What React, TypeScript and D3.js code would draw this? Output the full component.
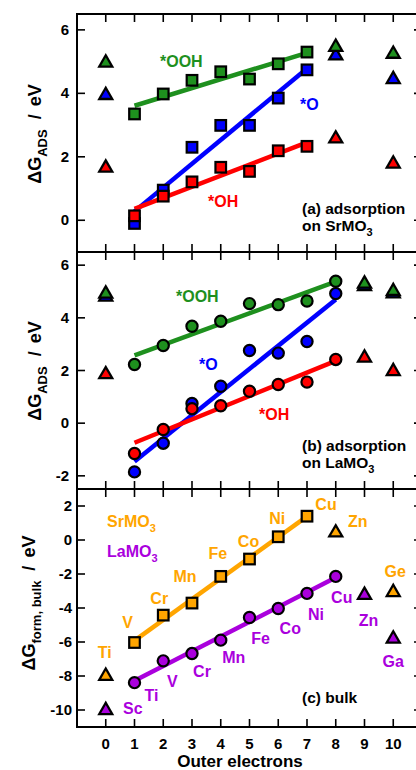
import { useEffect, useRef } from 'react';
import { select, scaleLinear, symbol, symbolTriangle, mean, sum } from 'd3';

// panel (a): adsorption on SrMO3, squares at 1..7 outer electrons
const srX = [1, 2, 3, 4, 5, 6, 7];
const srOOH = [3.35, 3.98, 4.41, 4.68, 4.45, 4.93, 5.3];
const srO = [-0.1, 0.95, 2.3, 2.99, 2.99, 3.85, 4.74];
const srOH = [0.14, 0.76, 1.21, 1.67, 1.54, 2.19, 2.33];
const srTriX = [0, 8, 10];
const srTriOOH = [4.96, 5.46, 5.24];
const srTriO = [3.94, 5.19, 4.44];
const srTriOH = [1.65, 2.57, 1.78];

// panel (b): adsorption on LaMO3, circles at 1..8
const laX = [1, 2, 3, 4, 5, 6, 7, 8];
const laOOH = [2.23, 2.95, 3.68, 3.87, 4.54, 4.5, 4.64, 5.39];
const laO = [-1.85, -0.76, 0.75, 1.4, 2.76, 2.66, 3.1, 4.92];
const laOH = [-1.15, -0.24, 0.55, 0.66, 1.21, 1.47, 1.56, 2.42];
const laTriX = [0, 9, 10];
const laTriOOH = [4.91, 5.29, 5.01];
const laTriO = [4.8, 5.2, 4.92];
const laTriOH = [1.85, 2.48, 1.97];

// panel (c): bulk formation energies
const srBulk = [-6.03, -4.42, -3.71, -2.14, -1.12, 0.19, 1.4];
const srBulkTri = [-8.0, 0.43, -3.08];
const srBulkTriX = [0, 8, 10];
const laBulk = [-8.39, -7.11, -6.68, -5.89, -4.56, -4.03, -3.14, -2.14];
const laBulkTri = [-10.02, -3.24, -5.81];
const laBulkTriX = [0, 9, 10];

const srElements = ['Ti', 'V', 'Cr', 'Mn', 'Fe', 'Co', 'Ni', 'Cu', 'Zn', 'Ge'];
const srElementX = [0, 1, 2, 3, 4, 5, 6, 7, 8, 10];
const laElements = ['Sc', 'Ti', 'V', 'Cr', 'Mn', 'Fe', 'Co', 'Ni', 'Cu', 'Zn', 'Ga'];
const laElementX = [0, 1, 2, 3, 4, 5, 6, 7, 8, 9, 10];

const xTicks = [0, 1, 2, 3, 4, 5, 6, 7, 8, 9, 10];

// label placement, px offsets from the marker
const srLabelOffsets = [[-1, -18], [-7, -15], [-4, -11], [-7, -21], [-3, -17], [-1, -12], [-1, -13], [19, -6], [22, -6], [2, -15]];
const laLabelOffsets = [[27, 4], [17, 18], [9, 26], [10, 23], [13, 23], [11, 26], [12, 25], [9, 27], [6, 27], [4, 31], [0, 28]];

const GREEN = '#1e901e';
const BLUE = '#0000ff';
const RED = '#ff0000';
const ORANGE = '#ffa500';
const PURPLE = '#aa00dd';
const FONT = '"Liberation Sans", Arial, Helvetica, sans-serif';

function fit(xs: number[], ys: number[]) {
  const mx = mean(xs) ?? 0;
  const my = mean(ys) ?? 0;
  const sxy = sum(xs, (v, i) => (v - mx) * (ys[i] - my));
  const sxx = sum(xs, (v) => (v - mx) * (v - mx));
  const b = sxy / sxx;
  return (v: number) => my + b * (v - mx);
}

export default function App() {
  const svgRef = useRef<SVGSVGElement | null>(null);

  useEffect(() => {
    if (!svgRef.current) return;
    const svg = select(svgRef.current);
    svg.selectAll('*').remove();

    const x = scaleLinear().domain([-1, 11]).range([77, 422]);
    const ya = scaleLinear().domain([-1, 6.5]).range([252, 14]);
    const yb = scaleLinear().domain([-2.5, 6.5]).range([489, 252]);
    const yc = scaleLinear().domain([-11, 3]).range([727, 489]);

    const txt = (sel: any) =>
      sel.attr('font-family', FONT).attr('font-weight', 'bold');

    const frame = (y: any, ticks: number[], labelX: number) => {
      const [y0, y1] = y.range();
      const g = svg.append('g');
      const tick = (data: number[], cls: string) =>
        g.selectAll(`line.${cls}`).data(data).join('line').attr('class', cls)
          .attr('stroke', '#000').attr('stroke-width', 1.6);
      tick(xTicks, 'xt')
        .attr('x1', (d) => x(d)).attr('x2', (d) => x(d))
        .attr('y1', y1).attr('y2', y1 + 8);
      tick(xTicks, 'xb')
        .attr('x1', (d) => x(d)).attr('x2', (d) => x(d))
        .attr('y1', y0).attr('y2', y0 - 8);
      tick(ticks, 'yl')
        .attr('x1', 77).attr('x2', 85)
        .attr('y1', (d) => y(d)).attr('y2', (d) => y(d));
      tick(ticks, 'yr')
        .attr('x1', 414).attr('x2', 422)
        .attr('y1', (d) => y(d)).attr('y2', (d) => y(d));
      g.append('rect')
        .attr('x', 77)
        .attr('y', y1)
        .attr('width', 345)
        .attr('height', y0 - y1)
        .attr('fill', 'none')
        .attr('stroke', '#000')
        .attr('stroke-width', 2);
      g.selectAll('text.yl')
        .data(ticks)
        .join('text')
        .attr('x', labelX)
        .attr('y', (d) => y(d) + 5)
        .attr('text-anchor', 'end')
        .attr('font-size', 15)
        .call(txt)
        .text((d) => String(d));
    };

    const fitLine = (y: any, xs: number[], ys: number[], color: string) => {
      const f = fit(xs, ys);
      const x0 = xs[0];
      const x1 = xs[xs.length - 1];
      svg.append('line')
        .attr('x1', x(x0))
        .attr('y1', y(f(x0)))
        .attr('x2', x(x1))
        .attr('y2', y(f(x1)))
        .attr('stroke', color)
        .attr('stroke-width', 4.5);
    };

    const squares = (y: any, xs: number[], ys: number[], color: string) => {
      svg.append('g')
        .selectAll('rect')
        .data(ys)
        .join('rect')
        .attr('x', (d, i) => x(xs[i]) - 5.3)
        .attr('y', (d) => y(d) - 5.3)
        .attr('width', 10.6)
        .attr('height', 10.6)
        .attr('fill', color)
        .attr('stroke', '#000')
        .attr('stroke-width', 2.2);
    };

    const circles = (y: any, xs: number[], ys: number[], color: string) => {
      svg.append('g')
        .selectAll('circle')
        .data(ys)
        .join('circle')
        .attr('cx', (d, i) => x(xs[i]))
        .attr('cy', (d) => y(d))
        .attr('r', 5.6)
        .attr('fill', color)
        .attr('stroke', '#000')
        .attr('stroke-width', 2.2);
    };

    const outer = symbol(symbolTriangle, 125)();
    const inner = symbol(symbolTriangle, 36)();
    const triangles = (y: any, xs: number[], ys: number[], color: string) => {
      const g = svg.append('g');
      ys.forEach((d, i) => {
        const t = `translate(${x(xs[i])},${y(d)})`;
        g.append('path').attr('d', outer).attr('transform', t).attr('fill', '#000');
        g.append('path').attr('d', inner).attr('transform', t).attr('fill', color);
      });
    };

    const label = (px: number, py: number, color: string, s: string, sub?: string, anchor = 'start', size = 16) => {
      const t = svg.append('text')
        .attr('x', px)
        .attr('y', py)
        .attr('fill', color)
        .attr('font-size', size)
        .attr('text-anchor', anchor)
        .call(txt)
        .text(s);
      if (sub) t.append('tspan').attr('dy', 5).attr('font-size', 11).text(sub);
    };

    const yTitle = (px: number, py: number, sub: string) => {
      const t = svg.append('text')
        .attr('transform', `translate(${px},${py}) rotate(-90)`)
        .attr('text-anchor', 'middle')
        .attr('font-size', 18)
        .call(txt);
      t.append('tspan').text('ΔG');
      t.append('tspan').attr('dy', 6).attr('font-size', 13).text(sub);
      t.append('tspan').attr('dy', -6).attr('dx', 10).text('/');
      t.append('tspan').attr('dx', 8).text('eV');
    };

    // panel (a)
    frame(ya, [0, 2, 4, 6], 69);
    fitLine(ya, srX, srOOH, GREEN);
    fitLine(ya, srX, srO, BLUE);
    fitLine(ya, srX, srOH, RED);
    squares(ya, srX, srOOH, GREEN);
    squares(ya, srX, srO, BLUE);
    squares(ya, srX, srOH, RED);
    triangles(ya, srTriX, srTriOH, RED);
    triangles(ya, srTriX, srTriO, BLUE);
    triangles(ya, srTriX, srTriOOH, GREEN);
    label(160, 67, GREEN, '*OOH');
    label(300, 110, BLUE, '*O');
    label(208, 207, RED, '*OH');
    label(302, 214, '#000', '(a) adsorption', undefined, 'start', 15.5);
    label(302, 231, '#000', 'on SrMO', '3', 'start', 15.5);
    yTitle(41, 134, 'ADS');

    // panel (b)
    frame(yb, [-2, 0, 2, 4, 6], 69);
    fitLine(yb, laX, laOOH, GREEN);
    fitLine(yb, laX, laO, BLUE);
    fitLine(yb, laX, laOH, RED);
    circles(yb, laX, laOOH, GREEN);
    circles(yb, laX, laO, BLUE);
    circles(yb, laX, laOH, RED);
    triangles(yb, laTriX, laTriOH, RED);
    triangles(yb, laTriX, laTriO, BLUE);
    triangles(yb, laTriX, laTriOOH, GREEN);
    label(176, 302, GREEN, '*OOH');
    label(199, 370, BLUE, '*O');
    label(259, 420, RED, '*OH');
    label(302, 451, '#000', '(b) adsorption', undefined, 'start', 15.5);
    label(302, 468, '#000', 'on LaMO', '3', 'start', 15.5);
    yTitle(41, 371, 'ADS');

    // panel (c)
    frame(yc, [-10, -8, -6, -4, -2, 0, 2], 72);
    fitLine(yc, srX, srBulk, ORANGE);
    fitLine(yc, laX, laBulk, PURPLE);
    squares(yc, srX, srBulk, ORANGE);
    circles(yc, laX, laBulk, PURPLE);
    triangles(yc, srBulkTriX, srBulkTri, ORANGE);
    triangles(yc, laBulkTriX, laBulkTri, PURPLE);
    label(107, 527, ORANGE, 'SrMO', '3');
    label(107, 557, PURPLE, 'LaMO', '3');
    label(302, 703, '#000', '(c) bulk', undefined, 'start', 15.5);
    yTitle(35, 603, 'form, bulk');

    const srAll = [srBulkTri[0], ...srBulk, srBulkTri[1], srBulkTri[2]];
    srElements.forEach((el, i) => {
      const [dx, dy] = srLabelOffsets[i];
      label(x(srElementX[i]) + dx, yc(srAll[i]) + dy, ORANGE, el, undefined, 'middle');
    });
    const laAll = [laBulkTri[0], ...laBulk, laBulkTri[1], laBulkTri[2]];
    laElements.forEach((el, i) => {
      const [dx, dy] = laLabelOffsets[i];
      label(x(laElementX[i]) + dx, yc(laAll[i]) + dy, PURPLE, el, undefined, 'middle');
    });

    // x axis
    svg.append('g')
      .selectAll('text')
      .data(xTicks)
      .join('text')
      .attr('x', (d) => x(d))
      .attr('y', 749)
      .attr('text-anchor', 'middle')
      .attr('font-size', 15)
      .call(txt)
      .text((d) => String(d));
    svg.append('text')
      .attr('x', 240)
      .attr('y', 767)
      .attr('text-anchor', 'middle')
      .attr('font-size', 17)
      .call(txt)
      .text('Outer electrons');
  }, []);

  return (
    <svg
      ref={svgRef}
      width={416}
      height={770}
      style={{ position: 'absolute', left: 0, top: 0, background: '#fff' }}
    />
  );
}
